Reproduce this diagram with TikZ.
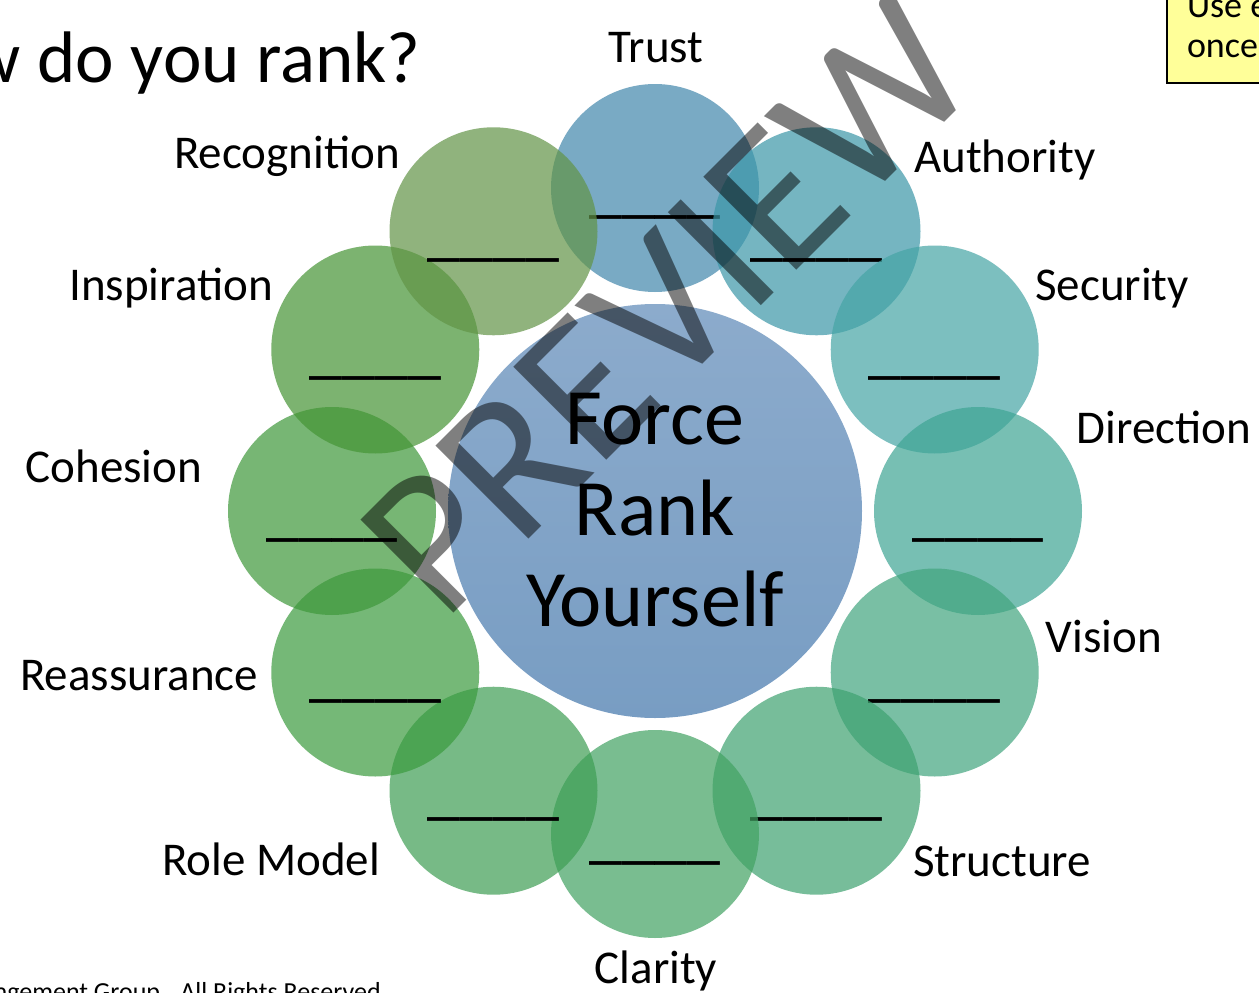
\documentclass[tikz,border=0pt]{standalone}
\usepackage{fontspec}
\setmainfont{Carlito}
\usetikzlibrary{positioning}

% petal fills, clockwise from the top
\definecolor{trustfill}{RGB}{65,134,171}
\definecolor{authorityfill}{RGB}{59,151,168}
\definecolor{securityfill}{RGB}{69,165,165}
\definecolor{directionfill}{RGB}{62,165,148}
\definecolor{visionfill}{RGB}{65,165,126}
\definecolor{structurefill}{RGB}{62,162,112}
\definecolor{clarityfill}{RGB}{65,162,98}
\definecolor{rolemodelfill}{RGB}{62,158,84}
\definecolor{reassurancefill}{RGB}{59,155,62}
\definecolor{cohesionfill}{RGB}{62,152,58}
\definecolor{inspirationfill}{RGB}{69,148,52}
\definecolor{recognitionfill}{RGB}{98,148,70}
\definecolor{hubtop}{RGB}{140,171,204}
\definecolor{hubbottom}{RGB}{120,157,195}
\definecolor{notepad}{RGB}{255,255,153}

\newcommand{\hubfont}{\fontsize{80}{91}\selectfont}
\newcommand{\tagfont}{\fontsize{47}{56}\selectfont}
\newcommand{\blankfont}{\fontsize{66}{70}\selectfont}

\tikzset{
  petal/.style={circle, minimum size=208pt, inner sep=0pt, fill opacity=0.7},
  tag/.style={font=\tagfont, anchor=base, inner sep=0pt},
  blank/.style={font=\blankfont, anchor=base, inner sep=0pt},
}

\begin{document}
\begin{tikzpicture}[x=1pt, y=-1pt]
  \useasboundingbox (0,0) rectangle (1259,993);
  \clip (0,0) rectangle (1259,993);
  \fill[white] (0,0) rectangle (1259,993);

  % title, runs off the left edge
  \node[anchor=base east, inner sep=0pt, font=\fontsize{73}{80}\selectfont] (title) at (421,82) {How do you rank?};

  % hub
  \node[circle, minimum size=414pt, inner sep=0pt, top color=hubtop, bottom color=hubbottom] (hub) at (655,511) {};
  \node[align=center, inner sep=0pt, font=\hubfont] (hubtext) at (655,510) {Force\\Rank\\Yourself};

  % twelve petals, each with its blank
  \foreach \name/\col [count=\k from 0] in {trust/trustfill, authority/authorityfill, security/securityfill,
      direction/directionfill, vision/visionfill, structure/structurefill, clarity/clarityfill,
      rolemodel/rolemodelfill, reassurance/reassurancefill, cohesion/cohesionfill,
      inspiration/inspirationfill, recognition/recognitionfill} {
    \node[petal, fill=\col] (\name) at ({655+323*cos(90-30*\k)}, {511-323*sin(90-30*\k)}) {};
    \node[blank] (\name-blank) at ([yshift=-22pt]\name.center) {\_\_\_\_};
  }

  % labels
  \node[tag] (trustlbl) at (656,62) {Trust};
  \node[tag] (authoritylbl) at (1005,172) {Authority};
  \node[tag] (securitylbl) at (1112,300) {Security};
  \node[tag] (directionlbl) at (1164,443) {Direction};
  \node[tag] (visionlbl) at (1104,652) {Vision};
  \node[tag] (structurelbl) at (1002,876) {Structure};
  \node[tag] (claritylbl) at (656,983) {Clarity};
  \node[tag] (rolemodellbl) at (271,875) {Role Model};
  \node[tag] (reassurancelbl) at (139,690) {Reassurance};
  \node[tag] (cohesionlbl) at (114,482) {Cohesion};
  \node[tag] (inspirationlbl) at (171,300) {Inspiration};
  \node[tag] (recognitionlbl) at (287,168) {Recognition};

  % sticky note, top right corner
  \node[draw=black, line width=2pt, fill=notepad, anchor=south west, align=left,
        inner xsep=20pt, inner ysep=20pt,
        font=\fontsize{36}{40}\selectfont] (note) at (1166,84) {Use each\\once only};

  % footer
  \node[anchor=base east, inner sep=0pt, font=\fontsize{26}{30}\selectfont] (footer) at (381,1000) {Management Group.~ All Rights Reserved};

  % watermark
  \node[rotate=45, inner sep=0pt, text=black, text opacity=0.5, font=\fontsize{205}{205}\selectfont] (stamp) at (668,306) {PREVIEW};
\end{tikzpicture}
\end{document}
